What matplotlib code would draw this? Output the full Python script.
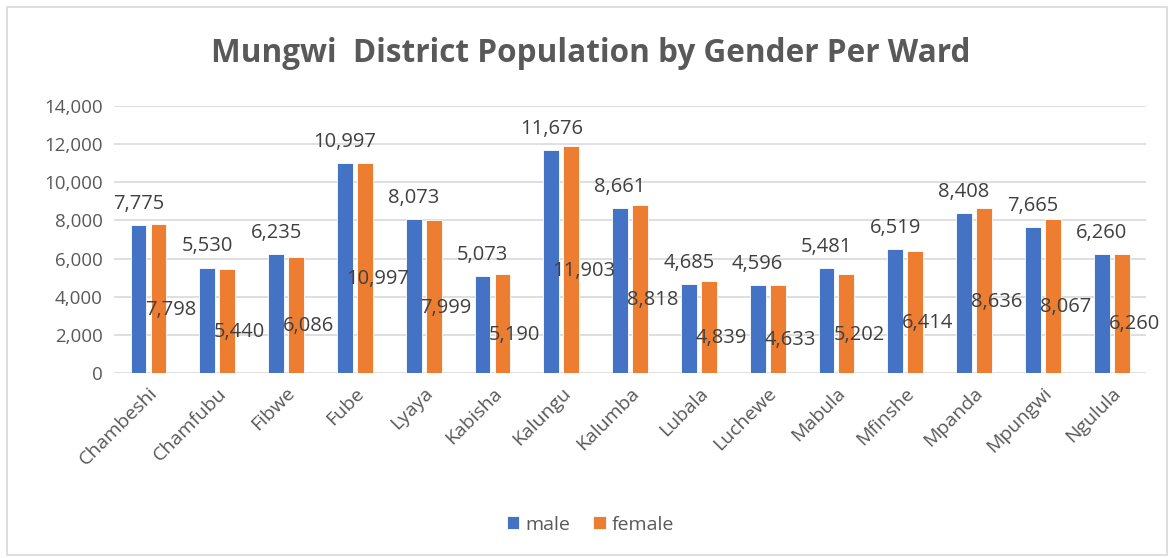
import matplotlib
matplotlib.use("Agg")
import matplotlib.pyplot as plt
import numpy as np
from matplotlib.patches import Rectangle

wards = ["Chambeshi", "Chamfubu", "Fibwe", "Fube", "Lyaya", "Kabisha", "Kalungu",
         "Kalumba", "Lubala", "Luchewe", "Mabula", "Mfinshe", "Mpanda", "Mpungwi", "Ngulula"]
male = [7775, 5530, 6235, 10997, 8073, 5073, 11676, 8661, 4685, 4596, 5481, 6519, 8408, 7665, 6260]
female = [7798, 5440, 6086, 10997, 7999, 5190, 11903, 8818, 4839, 4633, 5202, 6414, 8636, 8067, 6260]

plt.rcParams['font.family'] = ['Open Sans', 'DejaVu Sans']

BLUE = "#4472C4"
ORANGE = "#ED7D31"
GREY = "#595959"

fig = plt.figure(figsize=(11.76, 5.58), dpi=100)
fig.patches.append(Rectangle((0.006, 0.006), 0.986, 0.982, transform=fig.transFigure,
                             fill=False, edgecolor="#D9D9D9", linewidth=1.2))
ax = fig.add_axes([0.097, 0.3315, 0.8775, 0.4785])

x = np.arange(len(wards))
w = 0.23
off = 0.145
bm = ax.bar(x - off, male, w, color=BLUE, edgecolor="white", linewidth=0.6, label="male", zorder=3)
bf = ax.bar(x + off, female, w, color=ORANGE, edgecolor="white", linewidth=0.6, label="female", zorder=3)

for xi, v in zip(x, male):
    ax.annotate(f"{v:,}", (xi - off, v), xytext=(0, 8), textcoords="offset points",
                ha="center", va="bottom", fontsize=14.5, color="#404040", zorder=4)
for xi, v in zip(x, female):
    ax.annotate(f"{v:,}", (xi + off, v / 2), xytext=(9, -8), textcoords="offset points",
                ha="center", va="center", fontsize=14.5, color="#404040", zorder=4)

ax.set_xlim(-0.5, len(wards) - 0.5)
ax.set_ylim(0, 14000)
ax.set_yticks(np.arange(0, 14001, 2000))
ax.set_yticklabels([f"{t:,}" for t in range(0, 14001, 2000)], fontsize=13.5, color=GREY)
ax.set_xticks(x)
ax.set_xticklabels(wards, rotation=45, ha="right", rotation_mode="anchor", fontsize=14, color=GREY)
ax.tick_params(axis="both", length=0, pad=8)
ax.grid(axis="y", color="#D9D9D9", linewidth=1.2, zorder=0)
for s in ax.spines.values():
    s.set_visible(False)

fig.text(0.502, 0.905, "Mungwi  District Population by Gender Per Ward", ha="center", va="center",
         fontsize=22.7, fontweight="bold", color=GREY)

fig.legend(handles=[bm, bf], labels=["male", "female"], loc="center", bbox_to_anchor=(0.502, 0.06),
           ncol=2, frameon=False, fontsize=14, handlelength=0.65, handleheight=0.65,
           columnspacing=1.2, handletextpad=0.3, labelcolor=GREY)

fig.savefig("out.png", dpi=100)
